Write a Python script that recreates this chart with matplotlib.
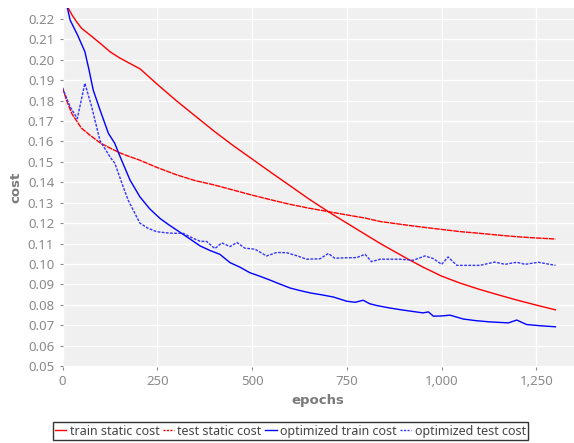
import matplotlib
matplotlib.use("Agg")
import matplotlib.pyplot as plt
from matplotlib.ticker import FuncFormatter, MultipleLocator

plt.rcParams['font.family'] = ['Noto Sans', 'DejaVu Sans']

# values
train_static_x = [0, 15, 25, 37, 50, 75, 100, 125, 150, 175, 205, 250, 300, 350, 400, 450,
                  500, 550, 600, 650, 706, 750, 800, 838, 900, 950, 1000, 1050, 1100, 1150,
                  1200, 1250, 1300]
train_static_y = [0.234, 0.2254, 0.222, 0.2187, 0.2155, 0.2118, 0.2080, 0.2040, 0.2010, 0.1985,
                  0.1955, 0.1880, 0.1800, 0.1725, 0.1650, 0.1580, 0.1514, 0.1448, 0.1383,
                  0.1318, 0.1250, 0.1200, 0.1143, 0.1100, 0.1035, 0.0985, 0.0940, 0.0905,
                  0.0875, 0.0848, 0.0822, 0.0798, 0.0775]

test_static_x = [0, 10, 25, 50, 75, 100, 125, 150, 175, 200, 250, 300, 350, 400, 450, 500,
                 550, 600, 650, 705, 750, 800, 837, 900, 950, 1000, 1050, 1100, 1150, 1200,
                 1250, 1300]
test_static_y = [0.1863, 0.1805, 0.1735, 0.1665, 0.1627, 0.1592, 0.1568, 0.1545, 0.1527,
                 0.1511, 0.1472, 0.1437, 0.1408, 0.1387, 0.1362, 0.1337, 0.1314, 0.1292,
                 0.1273, 0.1255, 0.1240, 0.1224, 0.1208, 0.1192, 0.1180, 0.1169, 0.1158,
                 0.1150, 0.1141, 0.1133, 0.1127, 0.1122]

opt_train_x = [0, 13, 20, 40, 59, 70, 81, 99, 121, 138, 152, 178, 204, 230, 257, 280, 301,
               330, 363, 390, 415, 442, 467, 494, 520, 547, 575, 600, 625, 653, 685, 714,
               750, 772, 793, 810, 829, 860, 890, 920, 951, 965, 978, 1000, 1022, 1057,
               1090, 1127, 1176, 1198, 1224, 1260, 1300]
opt_train_y = [0.236, 0.2254, 0.2195, 0.2120, 0.2040, 0.1950, 0.1852, 0.1754, 0.1640, 0.1590,
               0.1525, 0.1411, 0.1329, 0.1270, 0.1223, 0.1192, 0.1166, 0.1130, 0.1088,
               0.1065, 0.1047, 0.1006, 0.0985, 0.0957, 0.0940, 0.0921, 0.0900, 0.0882,
               0.0870, 0.0858, 0.0848, 0.0838, 0.0817, 0.0812, 0.0822, 0.0805, 0.0796,
               0.0785, 0.0776, 0.0768, 0.0760, 0.0765, 0.0744, 0.0745, 0.0749, 0.0730,
               0.0722, 0.0716, 0.0711, 0.0725, 0.0703, 0.0697, 0.0692]

opt_test_x = [0, 20, 39, 59, 77, 99, 125, 138, 160, 173, 204, 225, 248, 270, 292, 318, 345,
              363, 380, 402, 420, 442, 460, 481, 508, 538, 565, 591, 618, 644, 679, 701, 718,
              750, 776, 798, 815, 837, 890, 925, 956, 978, 1000, 1017, 1040, 1101, 1140,
              1167, 1198, 1220, 1255, 1300]
opt_test_y = [0.1863, 0.1770, 0.1712, 0.1885, 0.1770, 0.1603, 0.1525, 0.1493, 0.1378,
              0.1313, 0.1200, 0.1175, 0.1158, 0.1153, 0.1150, 0.1150, 0.1125, 0.1111,
              0.1110, 0.1075, 0.1103, 0.1085, 0.1105, 0.1077, 0.1072, 0.1039, 0.1056,
              0.1055, 0.1040, 0.1023, 0.1025, 0.1051, 0.1028, 0.1030, 0.1031, 0.1047,
              0.1011, 0.1023, 0.1023, 0.1018, 0.1039, 0.1026, 0.0998, 0.1034, 0.0993,
              0.0993, 0.1009, 0.0998, 0.1008, 0.0998, 0.1008, 0.0993]

fig = plt.figure(figsize=(5.74, 4.43), dpi=100)
ax = fig.add_axes([0.1089, 0.1716, 0.8911, 0.8104])
ax.set_facecolor('#f0f0f0')

ax.plot(train_static_x, train_static_y, color='#ff0000', lw=1.0, label='train static cost')
ax.plot(test_static_x, test_static_y, color='#ff0000', lw=1.0, dashes=(4, 0.6),
        label='test static cost')
ax.plot(opt_train_x, opt_train_y, color='#0000ff', lw=1.0, label='optimized train cost')
ax.plot(opt_test_x, opt_test_y, color='#3333ff', lw=1.0, dashes=(2, 1),
        label='optimized test cost')

ax.set_xlim(0, 1349)
ax.set_ylim(0.0495, 0.2254)
ax.xaxis.set_major_locator(MultipleLocator(250))
ax.yaxis.set_major_locator(MultipleLocator(0.01))
ax.xaxis.set_major_formatter(FuncFormatter(lambda v, p: '{:,.0f}'.format(v)))
ax.yaxis.set_major_formatter(FuncFormatter(lambda v, p: '{:.2f}'.format(v)))
ax.grid(True, color='white', lw=1.0)
ax.set_axisbelow(True)
for s in ax.spines.values():
    s.set_visible(False)
ax.tick_params(colors='#8a8a8a', labelsize=9.5, length=2, width=0.8, pad=4)

ax.set_xlabel('epochs', fontsize=9.5, fontweight='bold', color='#7a7a7a', family='DejaVu Sans')
ax.set_ylabel('cost', fontsize=9.5, fontweight='bold', color='#7a7a7a', family='DejaVu Sans')
ax.xaxis.set_label_coords(0.5, -0.075)
ax.yaxis.set_label_coords(-0.079, 0.5)

handles, labels = ax.get_legend_handles_labels()
leg = fig.legend(handles, labels, loc='center', bbox_to_anchor=(0.506, 0.027), ncol=4,
                 fontsize=9, frameon=True, fancybox=False, handlelength=0.9,
                 handletextpad=0.25, columnspacing=0.3, borderpad=0.2, borderaxespad=0)
leg.get_frame().set_edgecolor('black')
leg.get_frame().set_linewidth(1.0)
for t in leg.get_texts():
    t.set_color('#444444')
leg.get_lines()[1].set_dashes((1.5, 1))
leg.get_lines()[3].set_dashes((1.5, 1))

fig.savefig('out.png', dpi=100)
